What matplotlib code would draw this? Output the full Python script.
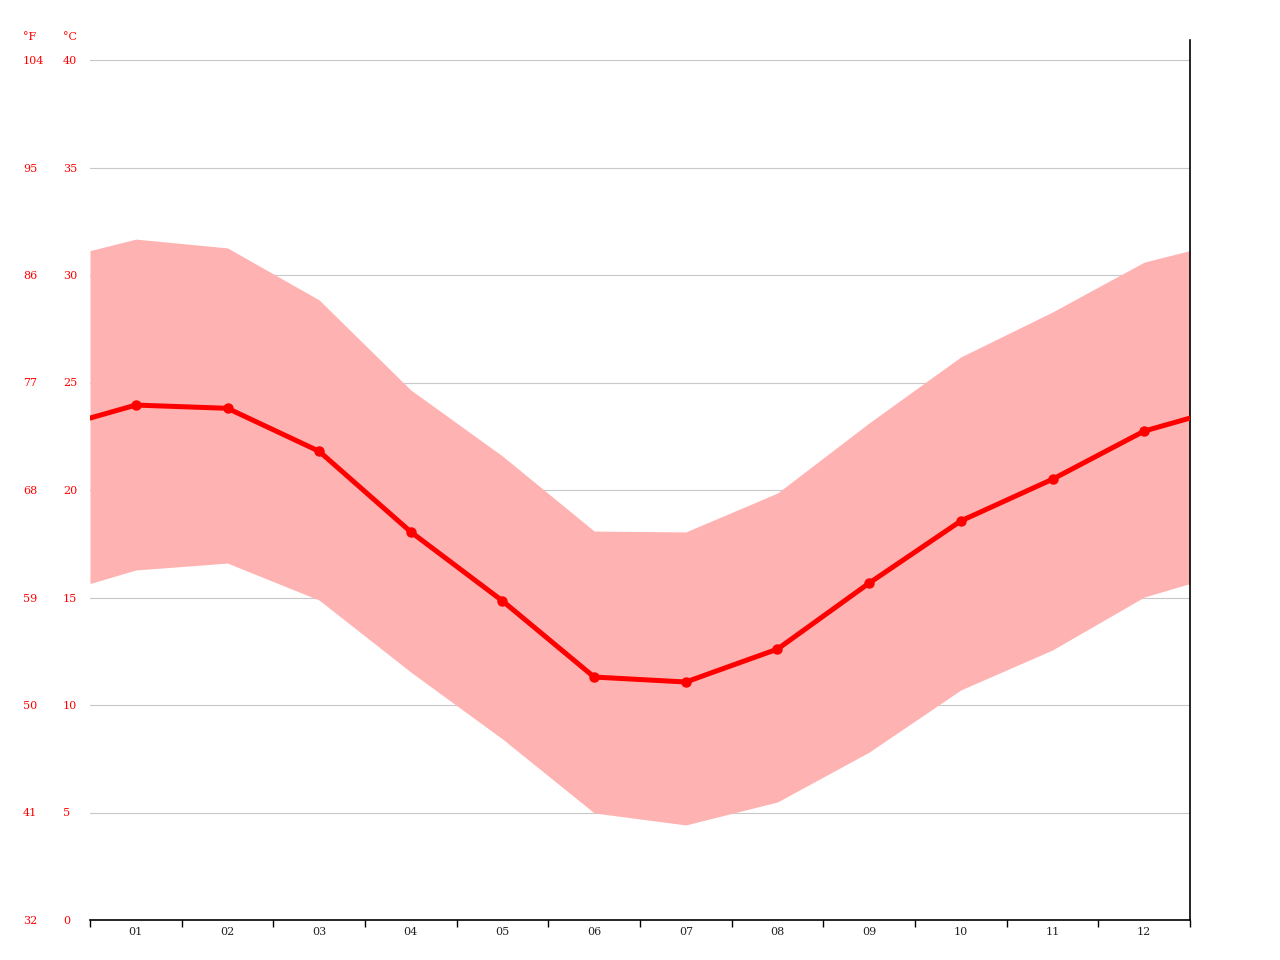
import matplotlib.pyplot as plt
import numpy as np

months = ['01', '02', '03', '04', '05', '06', '07', '08', '09', '10', '11', '12']
t_mean = [23.95, 23.8, 21.8, 18.05, 14.84, 11.3, 11.07, 12.6, 15.67, 18.56, 20.5, 22.74]
t_max = [31.67, 31.26, 28.84, 24.65, 21.58, 18.09, 18.05, 19.86, 23.12, 26.19, 28.28, 30.6]
t_min = [16.28, 16.6, 14.88, 11.53, 8.42, 4.98, 4.42, 5.49, 7.81, 10.7, 12.56, 15.02]
c_ticks = [0, 5, 10, 15, 20, 25, 30, 35, 40]
f_ticks = [32, 41, 50, 59, 68, 77, 86, 95, 104]

W, H = 1280, 960
fig = plt.figure(figsize=(12.8, 9.6), dpi=100)
ax = fig.add_axes([90 / W, 1 - 920 / H, 1100 / W, 880 / H])

x = np.arange(12) + 0.5
# wrap around: edges at 0 and 12 are the mean of Dec and Jan
def wrap(v):
    edge = (v[0] + v[-1]) / 2
    return np.r_[edge, v, edge]

xw = np.r_[0, x, 12]
ax.fill_between(xw, wrap(t_min), wrap(t_max), color='#ffb2b2', lw=0, zorder=1)
ax.plot(xw, wrap(t_mean), color='#ff0000', lw=3.6, zorder=3, solid_joinstyle='round')
ax.plot(x, t_mean, 'o', color='#ff0000', ms=6.5, zorder=4)

top = 40 + 20 / 21.5
ax.set_xlim(0, 12)
ax.set_ylim(0, top)
for c in c_ticks[1:]:
    ax.axhline(c, color='#c8c8c8', lw=0.8, zorder=0)

for s in ['left', 'top']:
    ax.spines[s].set_visible(False)
ax.spines['bottom'].set_color('black')
ax.spines['right'].set_color('black')
ax.spines['bottom'].set_linewidth(1.2)
ax.spines['right'].set_linewidth(1.2)

ax.set_yticks([])
ax.set_xticks(np.arange(13))
ax.set_xticklabels([])
ax.set_xticks(x, minor=True)
ax.set_xticklabels(months, minor=True, fontsize=8, family='DejaVu Serif', color='#222222')
ax.tick_params(axis='x', which='major', length=5, width=1, direction='out', color='black')
ax.tick_params(axis='x', which='minor', length=0, pad=5)

for c, f in zip(c_ticks, f_ticks):
    yfig = 1 - (921 - c * 21.5) / H
    fig.text(63 / W, yfig, str(c), color='#ff0000', fontsize=8, family='DejaVu Serif',
             ha='left', va='center')
    fig.text(23 / W, yfig, str(f), color='#ff0000', fontsize=8, family='DejaVu Serif',
             ha='left', va='center')
fig.text(63 / W, 1 - 37 / H, '°C', color='#ff0000', fontsize=8, family='DejaVu Serif',
         ha='left', va='center')
fig.text(23 / W, 1 - 37 / H, '°F', color='#ff0000', fontsize=8, family='DejaVu Serif',
         ha='left', va='center')

fig.savefig('out.png', dpi=100)
